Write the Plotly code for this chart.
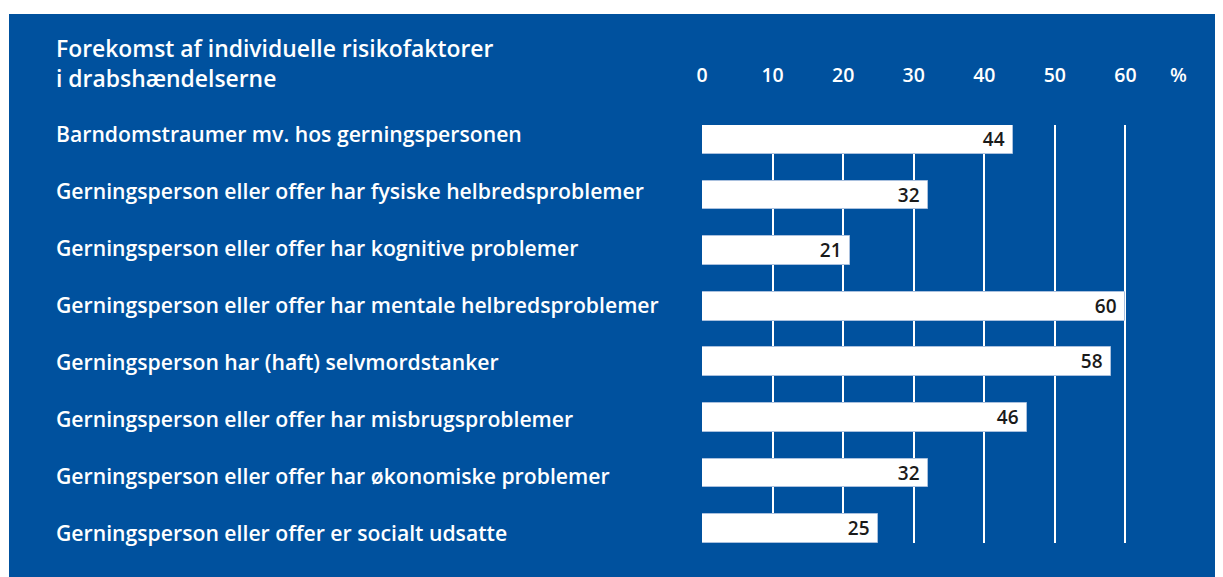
import plotly.graph_objects as go

title_lines = ["Forekomst af individuelle risikofaktorer", "i drabshændelserne"]
categories = [
    "Barndomstraumer mv. hos gerningspersonen",
    "Gerningsperson eller offer har fysiske helbredsproblemer",
    "Gerningsperson eller offer har kognitive problemer",
    "Gerningsperson eller offer har mentale helbredsproblemer",
    "Gerningsperson har (haft) selvmordstanker",
    "Gerningsperson eller offer har misbrugsproblemer",
    "Gerningsperson eller offer har økonomiske problemer",
    "Gerningsperson eller offer er socialt udsatte",
]
values = [44, 32, 21, 60, 58, 46, 32, 25]
tick_vals = [0, 10, 20, 30, 40, 50, 60]
unit_label = "%"

BLUE = "#00519E"
FONT = "Open Sans"

OFF = 8  # page body margin
W, H = 1223 - OFF, 577 - OFF
ML, MR, MT, MB = 702 - OFF, 27, 125 - OFF, 34
pw = W - ML - MR
ph = H - MT - MB

def px_x(p):
    return (p - OFF - ML) / pw

def px_y(p):
    return (H - MB - (p - OFF)) / ph

fig = go.Figure()
fig.add_trace(go.Bar(
    x=values,
    y=list(range(len(categories))),
    orientation="h",
    width=0.52,
    marker=dict(color="white", line=dict(color="#A9C0DE", width=1)),
    text=[str(v) + " " for v in values],
    textposition="inside",
    insidetextanchor="end",
    textangle=0,
    textfont=dict(family=FONT, size=19, color="#1a1a1a", weight=600),
    hoverinfo="skip",
))

annotations = []
for i, c in enumerate(categories):
    annotations.append(dict(
        x=px_x(54), xref="paper", y=i, yref="y",
        yshift=5.5 - 1.4 * i,
        text=c, showarrow=False, xanchor="left", yanchor="middle",
        font=dict(family=FONT, size=21.2, color="white", weight=600),
    ))
annotations.append(dict(
    x=px_x(54), xref="paper", y=px_y(63), yref="paper",
    text="<br>".join(title_lines), showarrow=False, xanchor="left", yanchor="middle",
    align="left",
    font=dict(family=FONT, size=22.9, color="white", weight=600),
))
annotations.append(dict(
    x=px_x(1178), xref="paper", y=px_y(75), yref="paper",
    text=unit_label, showarrow=False, xanchor="center", yanchor="middle",
    font=dict(family=FONT, size=19.5, color="white", weight=600),
))

fig.update_layout(
    width=W, height=H,
    margin=dict(l=ML, r=MR, t=MT, b=MB, pad=0),
    paper_bgcolor="white",
    plot_bgcolor=BLUE,
    showlegend=False,
    bargap=0,
    uniformtext=dict(minsize=19, mode="show"),
    annotations=annotations,
    shapes=[dict(
        type="rect", xref="paper", yref="paper",
        x0=px_x(9), x1=px_x(1223 + 5), y0=px_y(14), y1=px_y(577 + 5),
        fillcolor=BLUE, line=dict(width=0), layer="below",
    )],
    xaxis=dict(
        range=[0, 70], side="top", tickvals=tick_vals,
        showgrid=True, gridcolor="white", gridwidth=2,
        zeroline=False, showline=False, ticks="",
        ticklabelstandoff=38,
        tickfont=dict(family=FONT, size=19.5, color="white", weight=600),
        fixedrange=True,
    ),
    yaxis=dict(
        range=[len(categories) - 1 + 0.26, -0.26],
        showticklabels=False, showgrid=False, zeroline=False, ticks="",
        fixedrange=True,
    ),
)

fig.write_html("out.html")
